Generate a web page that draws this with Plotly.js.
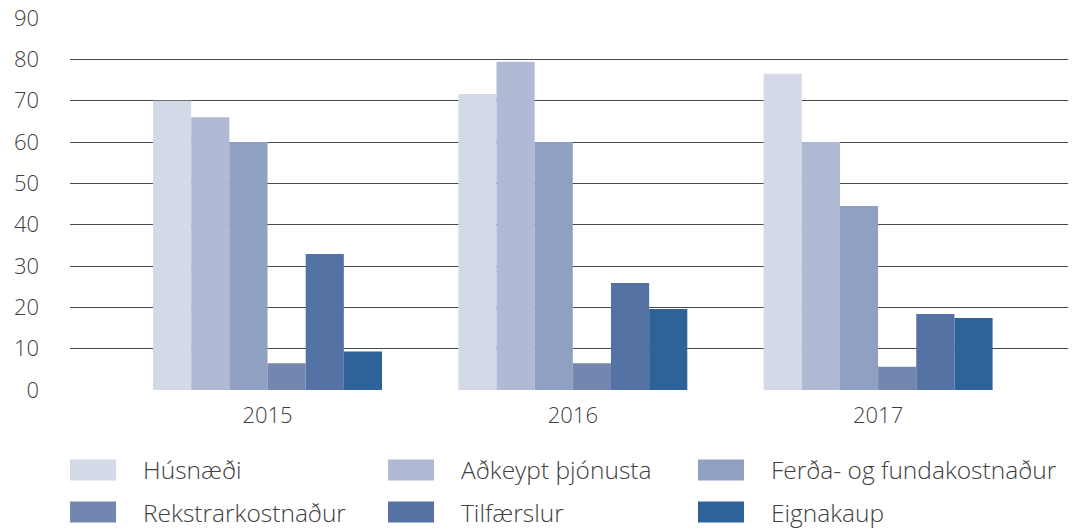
<!DOCTYPE html>
<html><head><meta charset="utf-8">
<script src="https://cdn.plot.ly/plotly-3.0.1.min.js"></script>
<style>body{margin:0;background:#fff}#chart{width:1083px;height:531px}</style>
</head><body><div id="chart"></div>
<script>
const years = ['2015', '2016', '2017'];
const seriesNames = ['Húsnæði', 'Aðkeypt þjónusta', 'Ferða- og fundakostnaður', 'Rekstrarkostnaður', 'Tilfærslur', 'Eignakaup'];
const husnaedi = [70, 71.6, 76.5];
const adkeypt = [66, 79.4, 60];
const ferda = [60, 60, 44.5];
const rekstrar = [6.5, 6.5, 5.6];
const tilfaerslur = [32.9, 25.9, 18.4];
const eignakaup = [9.3, 19.6, 17.4];
const colors = ['#D3D9E7', '#B0BAD5', '#8FA0C3', '#7386B0', '#5473A4', '#2E6399'];
const yTicks = [0, 10, 20, 30, 40, 50, 60, 70, 80, 90];

const values = [husnaedi, adkeypt, ferda, rekstrar, tilfaerslur, eignakaup];
const font = {family: '"Open Sans", "Noto Sans", sans-serif', color: '#404040', weight: 300};
const legendIds = ['legend', 'legend2', 'legend3', 'legend4', 'legend5', 'legend6'];
const traces = seriesNames.map((n, i) => ({
  type: 'bar', name: n, x: years, y: values[i],
  marker: {color: colors[i]}, hoverinfo: 'y+name',
  legend: legendIds[i]
}));
// legend grid: 3 columns x 2 rows (paper coords)
const colX = [-0.027, 0.2916, 0.6022];
const rowY = [-0.215, -0.328];
const layout = {
  width: 1083, height: 531,
  margin: {l: 70, r: 15, t: 18, b: 141, autoexpand: false},
  paper_bgcolor: '#fff', plot_bgcolor: '#fff',
  font: Object.assign({size: 22}, font),
  barmode: 'group', bargap: 0.25, bargroupgap: 0,
  xaxis: {type: 'category', range: [-0.647, 2.622], showgrid: false, zeroline: false, showline: false,
    ticks: '', tickfont: Object.assign({size: 22}, font), ticklabelstandoff: 10},
  yaxis: {range: [0, 90], tickvals: yTicks, ticktext: yTicks.map(String),
    showgrid: true, gridcolor: '#4a4a4a', gridwidth: 1, zeroline: false,
    showline: false, ticks: '', tickfont: Object.assign({size: 22}, font), ticklabelstandoff: 30},
  showlegend: true
};
legendIds.forEach((id, i) => {
  layout[id] = {orientation: 'v', x: colX[i % 3], xanchor: 'left', y: rowY[Math.floor(i / 3)], yanchor: 'middle',
    itemwidth: 90, font: Object.assign({size: 24.5}, font), bgcolor: 'rgba(0,0,0,0)', borderwidth: 0};
});
Plotly.newPlot('chart', traces, layout, {displayModeBar: false, staticPlot: true}).then(gd => {
  // larger legend swatches as in the reference
  gd.querySelectorAll('.legendpoints path').forEach(p => {
    p.setAttribute('d', 'M-23,-10.5H23V10.5H-23Z');
    p.style.strokeWidth = '0';
  });
});
</script></body></html>
